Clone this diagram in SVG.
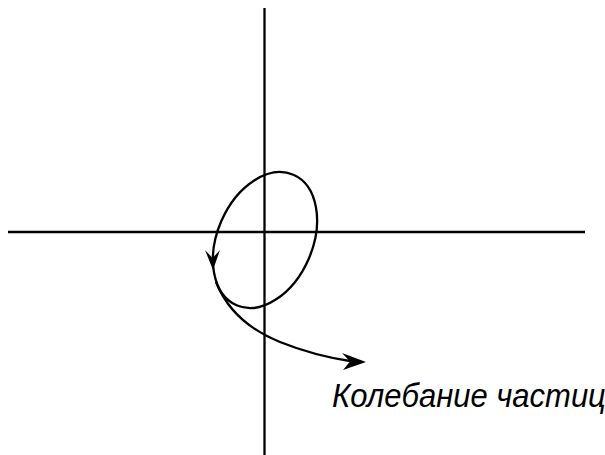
<svg xmlns="http://www.w3.org/2000/svg" width="605" height="455" viewBox="0 0 605 455">
<style>
.ln{fill:none;stroke:#000;stroke-width:2.3}
.ah{fill:#000;stroke:none}
.lbl{font-family:"Liberation Sans",Arial,sans-serif;font-style:italic;font-size:31px;fill:#000}
</style>
<rect width="605" height="455" fill="#fff"/>
<g id="axes">
<line class="ln" x1="264.5" y1="8" x2="264.5" y2="455"/>
<line class="ln" x1="8" y1="232" x2="585" y2="232"/>
</g>
<g id="connectors">
<ellipse class="ln" cx="265" cy="240" rx="47.6" ry="71.2" transform="rotate(23.5 265 240)"/>
<polygon class="ah" points="213,270 205,250 212.5,258 220,250"/>
<path class="ln" d="M216,282 C228,312 250,330 280,342 C305,352 330,358 350,361"/>
<polygon class="ah" points="366,362 342,353 350,361.5 343,370"/>
</g>
<g id="label">
<text class="lbl" x="332" y="377.3" transform="scale(1,1.08)">Колебание частиц</text>
</g>
</svg>
